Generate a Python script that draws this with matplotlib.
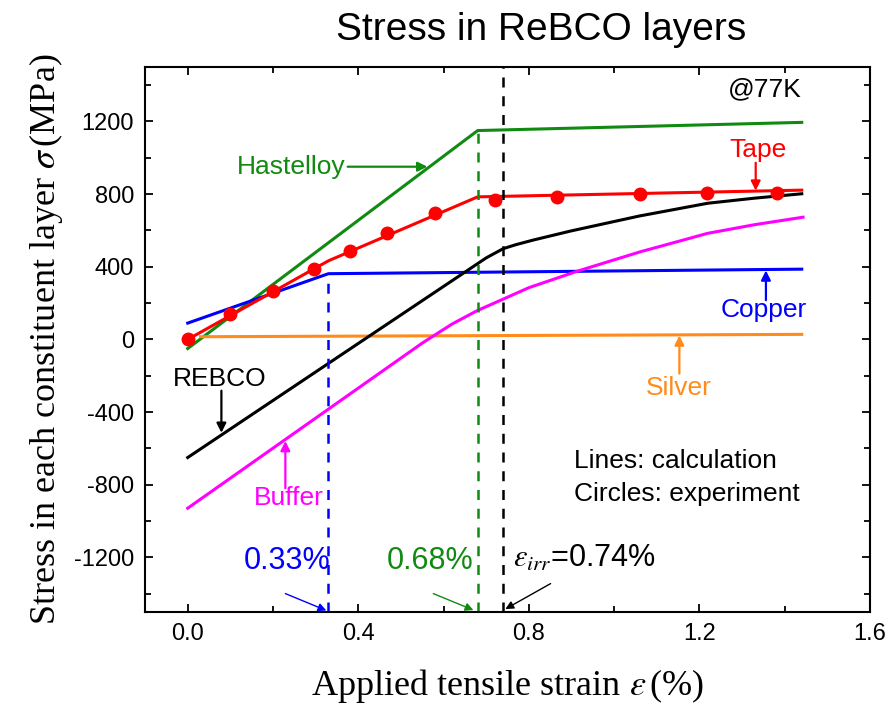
import numpy as np
import matplotlib
matplotlib.use("Agg")
import matplotlib.pyplot as plt
from matplotlib.ticker import MultipleLocator

plt.rcParams['mathtext.fontset'] = 'stix'

# stress in each layer (MPa) vs applied strain (%)
hast_strain = [0.0, 0.68, 1.44]
hast_stress = [-50, 1150, 1195]

cu_strain = [0.0, 0.33, 1.44]
cu_stress = [90, 362, 387]

ag_strain = [0.03, 1.44]
ag_stress = [15, 28]

tape_strain = [0.0, 0.33, 0.68, 1.44]
tape_stress = [0, 433, 785, 822]

rebco_strain = [0.0, 0.70, 0.74, 0.77, 0.81, 0.90, 1.06, 1.22, 1.33, 1.44]
rebco_stress = [-650, 449, 500, 522, 547, 598, 680, 750, 778, 802]

buf_strain = [0.0, 0.55, 0.62, 0.68, 0.734, 0.80, 0.914, 1.062, 1.14, 1.219, 1.33, 1.443]
buf_stress = [-929, -20, 85, 160, 216, 285, 376, 483, 533, 584, 632, 673]

# experiment (circles)
exp_strain = [0.0, 0.10, 0.20, 0.295, 0.38, 0.468, 0.58, 0.72, 0.867, 1.06, 1.217, 1.382]
exp_stress = [0, 138, 266, 387, 487, 586, 697, 769, 785, 802, 807, 807]

# characteristic strains
eps_cu = 0.33
eps_hast = 0.68
eps_irr = 0.74

green = '#118a11'
orange = '#ff8c1a'
sans = 'Liberation Sans'
serif = 'Liberation Serif'

fig = plt.figure(figsize=(8.9, 7.05), dpi=100)
ax = fig.add_axes([0.163, 0.132, 0.8145, 0.773])

lw = 2.2
ax.plot(hast_strain, hast_stress, color=green, lw=lw)
ax.plot(ag_strain, ag_stress, color=orange, lw=lw)
ax.plot(cu_strain, cu_stress, color='#0000ff', lw=lw)
ax.plot(rebco_strain, rebco_stress, color='black', lw=lw)
ax.plot(buf_strain, buf_stress, color='#ff00ff', lw=lw)
ax.plot(tape_strain, tape_stress, color='#ff0000', lw=lw)
ax.plot(exp_strain, exp_stress, 'o', color='#ff0000', ms=9)

# dashed markers of yield / irreversible strain
dash = (0, (4, 3.5))
ax.plot([eps_cu, eps_cu], [-1500, np.interp(eps_cu, cu_strain, cu_stress)],
        color='#0000ff', lw=1.8, ls=dash)
ax.plot([eps_hast, eps_hast], [-1500, np.interp(eps_hast, hast_strain, hast_stress)],
        color=green, lw=1.8, ls=dash)
ax.plot([eps_irr, eps_irr], [-1500, 1500], color='black', lw=1.8, ls=dash)

ax.set_xlim(-0.1, 1.6)
ax.set_ylim(-1500, 1500)
ax.xaxis.set_major_locator(MultipleLocator(0.4))
ax.xaxis.set_minor_locator(MultipleLocator(0.2))
ax.yaxis.set_major_locator(MultipleLocator(400))
ax.yaxis.set_minor_locator(MultipleLocator(200))
ax.set_xticks([0.0, 0.4, 0.8, 1.2, 1.6])
ax.set_xticklabels(['0.0', '0.4', '0.8', '1.2', '1.6'])
ax.set_yticks([-1200, -800, -400, 0, 400, 800, 1200])
ax.set_yticklabels(['-1200', '-800', '-400', '0', '400', '800', '1200'])
ax.tick_params(which='both', direction='in', top=True, right=True, width=1.3)
ax.tick_params(which='major', length=6, labelsize=17, pad=8)
ax.tick_params(which='minor', length=4)
for lab in ax.get_xticklabels() + ax.get_yticklabels():
    lab.set_family(sans)
for s in ax.spines.values():
    s.set_linewidth(1.5)

ax.set_xlabel(r'Applied tensile strain $\varepsilon\,$(%)', family=serif,
              fontsize=26, labelpad=16)
ax.set_ylabel(r'Stress in each constituent layer $\sigma\,$(MPa)', family=serif,
              fontsize=26, labelpad=6)

fig.text(0.608, 0.957, 'Stress in ReBCO layers', family=sans, fontsize=28,
         ha='center', va='center')

def arrow(tip, tail, color, lw=1.6, size=14):
    ax.annotate('', xy=tip, xytext=tail,
                arrowprops=dict(arrowstyle='-|>', color=color, lw=lw,
                                mutation_scale=size, shrinkA=0, shrinkB=0))

def note(x, y, txt, color='black', size=19, ha='center'):
    ax.text(x, y, txt, color=color, family=sans, fontsize=size, ha=ha, va='center')

note(0.116, 951, 'Hastelloy', green, ha='left')
arrow((0.562, 951), (0.375, 951), green)
note(1.337, 1045, 'Tape', '#ff0000')
arrow((1.332, 819), (1.332, 973), '#ff0000')
note(1.35, 160, 'Copper', '#0000ff')
arrow((1.356, 380), (1.356, 216), '#0000ff')
note(1.152, -265, 'Silver', orange)
arrow((1.153, 22), (1.153, -188), orange)
note(0.076, -216, 'REBCO')
arrow((0.079, -514), (0.079, -282), 'black')
note(0.236, -874, 'Buffer', '#ff00ff')
arrow((0.229, -559), (0.229, -819), '#ff00ff')

note(1.44, 1377, '@77K', ha='right')
note(0.905, -669, 'Lines: calculation', ha='left')
note(0.905, -852, 'Circles: experiment', ha='left')

# strain values at the bottom
note(0.234, -1222, '0.33%', '#0000ff', size=22)
arrow((0.325, -1492), (0.229, -1399), '#0000ff', lw=1.0, size=12)
note(0.569, -1222, '0.68%', green, size=22)
arrow((0.67, -1490), (0.576, -1399), green, lw=1.0, size=12)
note(0.764, -1206, r'$\varepsilon_{irr}$=0.74%', size=22, ha='left')
arrow((0.745, -1484), (0.851, -1344), 'black', lw=1.0, size=12)

fig.savefig('out.png', dpi=100)
